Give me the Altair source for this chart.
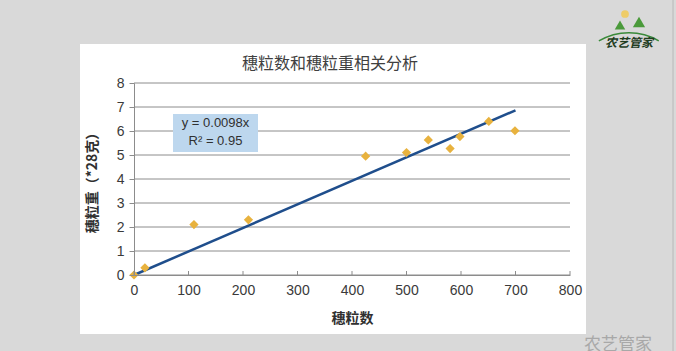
import altair as alt
import pandas as pd

# data
grains = [0, 20, 110, 210, 425, 500, 540, 580, 598, 651, 699]
weights = [0.0, 0.3, 2.1, 2.3, 4.95, 5.1, 5.63, 5.27, 5.77, 6.4, 6.01]
slope = 0.0098
trend_x = [0, 700]
x_ticks = [0, 100, 200, 300, 400, 500, 600, 700, 800]
y_ticks = [0, 1, 2, 3, 4, 5, 6, 7, 8]
eq_lines = ["y = 0.0098x", "R² = 0.95"]

W, H = 436, 192
OX, OY = 134, 83
CJK = "Noto Sans CJK SC"
LAT = "Liberation Sans"
GRID = "#8c8c8c"

pts = pd.DataFrame({"x": grains, "y": weights})
trend = pd.DataFrame({"x": trend_x, "y": [slope * v for v in trend_x]})
xticks_df = pd.DataFrame({"x": x_ticks})
yticks_df = pd.DataFrame({"y": y_ticks})

xs = alt.Scale(domain=[0, 800], nice=False, zero=True)
ys = alt.Scale(domain=[0, 8], nice=False)

X_AX = alt.Axis(values=x_ticks, title="穗粒数", grid=False, zindex=1,
                labelFlush=False, labelOverlap=False,
                domainColor=GRID, tickSize=0, labelPadding=8,
                labelFont=LAT, labelFontSize=14, labelColor="#3a3a3a",
                titleFont=CJK, titleFontSize=14, titleFontWeight="bold",
                titleColor="#303030", titleX=W / 2, titleY=43,
                titleBaseline="middle")
Y_AX = alt.Axis(values=y_ticks, title="穗粒重（*28克）", grid=False, zindex=1,
                labelFlush=False, labelOverlap=False,
                domainColor=GRID, tickColor=GRID, tickSize=5,
                labelPadding=5,
                labelFont=LAT, labelFontSize=14, labelColor="#3a3a3a",
                titleFont=CJK, titleFontSize=14, titleFontWeight="bold",
                titleColor="#303030", titleX=-42, titleY=96,
                titleAlign="center", titleBaseline="middle")


def X(f="x:Q"):
    return alt.X(f, scale=xs, axis=X_AX)


def Y(f="y:Q"):
    return alt.Y(f, scale=ys, axis=Y_AX)


one = pd.DataFrame({"a": [0]})


def text_at(txt, px, py, **kw):
    return alt.Chart(one).mark_text(text=txt, **kw).encode(
        x=alt.value(px - OX), y=alt.value(py - OY))


# white panel behind the chart
panel = alt.Chart(one).mark_rect(color="white").encode(
    x=alt.value(80 - OX), x2=alt.value(586 - OX),
    y=alt.value(44 - OY), y2=alt.value(334 - OY),
)
# right edge line of screenshot
edge = alt.Chart(one).mark_rule(color="#b8b8b8", strokeWidth=1).encode(
    x=alt.value(673 - OX), y=alt.value(-OY), y2=alt.value(351 - OY),
)

grid = alt.Chart(yticks_df).mark_rule(color=GRID, strokeWidth=1).encode(
    y=Y(), x=alt.value(0), x2=alt.value(W)
)

xticks = alt.Chart(xticks_df).mark_rule(color=GRID, strokeWidth=1).encode(
    x=X(), y=alt.value(H), y2=alt.value(H - 4)
)

line = alt.Chart(trend).mark_line(color="#1f4e8c", strokeWidth=2.5).encode(
    x=X(), y=Y()
)

base = alt.Chart(pts).mark_point(
    shape="diamond", filled=True, size=85, color="#e8b23e", opacity=1
).encode(x=X(), y=Y())

box = alt.Chart(one).mark_rect(color="#bdd7ee").encode(
    x=alt.value(173 - OX), x2=alt.value(258 - OX),
    y=alt.value(114 - OY), y2=alt.value(152 - OY),
)
eq1 = text_at(eq_lines[0], 215.5, 123, font=LAT, fontSize=13, color="#303030",
              align="center", baseline="middle")
eq2 = text_at(eq_lines[1], 215.5, 141, font=LAT, fontSize=13, color="#303030",
              align="center", baseline="middle")

title = text_at("穗粒数和穗粒重相关分析", 330, 64, font=CJK, fontSize=16,
                color="#404040", align="center", baseline="middle")

# logo decoration
logo_arc = alt.Chart(one).mark_arc(
    color="#3a8a3a", radius=60, radius2=58.5, theta=5.75, theta2=6.81
).encode(x=alt.value(629 - OX), y=alt.value(92 - OY))
roof1 = alt.Chart(one).mark_point(
    shape="triangle-up", filled=True, color="#4a9a3a", opacity=1, size=110
).encode(x=alt.value(620 - OX), y=alt.value(25 - OY))
roof2 = alt.Chart(one).mark_point(
    shape="triangle-up", filled=True, color="#4a9a3a", opacity=1, size=150
).encode(x=alt.value(639 - OX), y=alt.value(22 - OY))
sun = alt.Chart(one).mark_point(
    shape="circle", filled=True, color="#f2c84a", size=60, opacity=0.8
).encode(x=alt.value(625 - OX), y=alt.value(14 - OY))
logo = text_at("农艺管家", 629, 43, font=CJK, fontSize=12, fontWeight="bold",
               color="#1f3d1f", align="center", baseline="middle", fontStyle="italic")

wm = text_at("农艺管家", 584, 337, font=CJK, fontSize=17, color="#a8a8a8",
             align="left", baseline="top")

chart = alt.layer(
    panel, edge, grid, box, line, base, xticks, eq1, eq2, title,
    sun, roof1, roof2, logo_arc, logo, wm
).properties(
    width=W, height=H,
    autosize=alt.AutoSizeParams(type="none"),
    padding={"left": OX, "top": OY, "right": 676 - OX - W, "bottom": 351 - OY - H},
).configure(background="#d9d9d9").configure_view(stroke=None)

chart.save("out.html", embed_options={"renderer": "svg", "actions": False})
